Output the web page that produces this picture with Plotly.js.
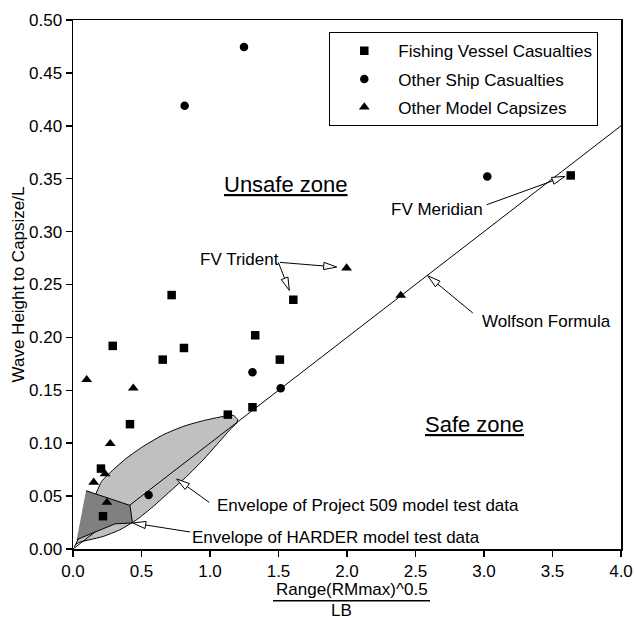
<!DOCTYPE html>
<html>
<head>
<meta charset="utf-8">
<script src="https://cdn.plot.ly/plotly-3.0.1.min.js"></script>
<style>html,body{margin:0;padding:0;background:#fff;}#chart{width:635px;height:619px;}</style>
</head>
<body>
<div id="chart"></div>
<script>
// ---- Data ----
var fishingX = [0.72, 1.608, 0.29, 0.81, 0.655, 1.33, 1.51, 1.13, 1.31, 0.416, 0.204, 0.219, 3.633];
var fishingY = [0.240, 0.2356, 0.192, 0.190, 0.179, 0.202, 0.179, 0.127, 0.134, 0.118, 0.076, 0.031, 0.3531];

var shipX = [1.248, 0.815, 3.024, 1.31, 1.516, 0.552];
var shipY = [0.4745, 0.419, 0.352, 0.167, 0.152, 0.051];

var modelX = [0.10, 0.44, 0.272, 0.234, 0.151, 0.248, 1.997, 2.392];
var modelY = [0.160, 0.152, 0.0995, 0.071, 0.063, 0.044, 0.2656, 0.2397];

var wolfsonX = [0, 4];
var wolfsonY = [0, 0.4];

var proj509X = [0.01, 0.07, 0.13, 0.173, 0.209, 0.294, 0.392, 0.513, 0.659, 0.805, 0.951, 1.097, 1.170, 1.202, 1.195, 1.146, 1.049, 0.951, 0.830, 0.708, 0.586, 0.465, 0.343, 0.221, 0.124, 0.051, 0.015];
var proj509Y = [0.002, 0.018, 0.040, 0.0539, 0.0639, 0.0750, 0.0860, 0.0970, 0.1080, 0.1159, 0.1213, 0.1253, 0.1263, 0.1222, 0.1191, 0.1128, 0.0986, 0.0844, 0.0686, 0.0545, 0.0403, 0.0277, 0.0182, 0.0119, 0.0088, 0.0066, 0.004];

var harderX = [0.095, 0.416, 0.434, 0.307, 0.027];
var harderY = [0.0551, 0.0412, 0.0246, 0.0238, 0.0088];

var xTicks = [0, 0.5, 1, 1.5, 2, 2.5, 3, 3.5, 4];
var xTickText = ["0.0", "0.5", "1.0", "1.5", "2.0", "2.5", "3.0", "3.5", "4.0"];
var yTicks = [0, 0.05, 0.1, 0.15, 0.2, 0.25, 0.3, 0.35, 0.4, 0.45, 0.5];
var yTickText = ["0.00", "0.05", "0.10", "0.15", "0.20", "0.25", "0.30", "0.35", "0.40", "0.45", "0.50"];

// ---- Layout geometry ----
var W = 635, H = 619;
var M = {l: 73, r: 14, t: 20, b: 70};
var xRange = [0, 4], yRange = [0, 0.5];
var pw = W - M.l - M.r, ph = H - M.t - M.b;
var sx = pw / (xRange[1] - xRange[0]), sy = ph / (yRange[1] - yRange[0]);

var FONT = "Liberation Sans, Arial, sans-serif";

// arrows: tail -> tip (data coords), open white heads
var arrows = [
  {tail: [1.511, 0.2709], tip: [1.925, 0.2665]},
  {tail: [1.499, 0.2709], tip: [1.579, 0.2444]},
  {tail: [3.020, 0.3254], tip: [3.591, 0.3522]},
  {tail: [2.918, 0.2231], tip: [2.589, 0.2583]},
  {tail: [0.995, 0.0440], tip: [0.757, 0.0662]},
  {tail: [0.854, 0.0161], tip: [0.436, 0.0246]}
];

var shapes = [];
arrows.forEach(function (a) {
  var tx = a.tail[0] * sx, ty = -a.tail[1] * sy;
  var hx = a.tip[0] * sx, hy = -a.tip[1] * sy;
  var dx = hx - tx, dy = hy - ty, len = Math.sqrt(dx * dx + dy * dy);
  var ux = dx / len, uy = dy / len, nx = -uy, ny = ux;
  var L = 13, w = 3.6;
  var bx = hx - L * ux, by = hy - L * uy;
  function d(px, py) { return (px / sx).toFixed(5) + "," + (-py / sy).toFixed(5); }
  shapes.push({type: "line", xref: "x", yref: "y", x0: a.tail[0], y0: a.tail[1], x1: bx / sx, y1: -by / sy,
    line: {color: "black", width: 1}, layer: "above"});
  shapes.push({type: "path", xref: "x", yref: "y",
    path: "M" + d(hx, hy) + " L" + d(bx + w * nx, by + w * ny) + " L" + d(bx - w * nx, by - w * ny) + " Z",
    fillcolor: "white", line: {color: "black", width: 1}, layer: "above"});
});

// x-axis title fraction bar
shapes.push({type: "line", xref: "paper", yref: "paper", x0: 0.365, x1: 0.6515, y0: -0.0977, y1: -0.0977,
  line: {color: "black", width: 1.5}});

var traces = [
  {x: proj509X, y: proj509Y, type: "scatter", mode: "lines", fill: "toself", fillcolor: "#c0c0c0",
   line: {color: "black", width: 1, shape: "spline", smoothing: 0.6}, showlegend: false, hoverinfo: "skip"},
  {x: wolfsonX, y: wolfsonY, type: "scatter", mode: "lines", line: {color: "black", width: 1},
   showlegend: false, hoverinfo: "skip"},
  {x: harderX, y: harderY, type: "scatter", mode: "lines", fill: "toself", fillcolor: "#808080",
   line: {color: "black", width: 1}, showlegend: false, hoverinfo: "skip"},
  {x: fishingX, y: fishingY, type: "scatter", mode: "markers", name: "Fishing Vessel Casualties",
   legendgroup: "a", marker: {symbol: "square", size: 8.5, color: "black"}},
  {x: shipX, y: shipY, type: "scatter", mode: "markers", name: "Other Ship Casualties",
   legendgroup: "b", marker: {symbol: "circle", size: 8.5, color: "black"}},
  {x: modelX, y: modelY, type: "scatter", mode: "markers", name: "Other Model Capsizes",
   legendgroup: "c", marker: {symbol: "triangle-up", size: 9.5, color: "black"}}
];

function ann(text, x, y, size, xanchor) {
  return {text: text, x: x, y: y, xref: "x", yref: "y", showarrow: false,
    xanchor: xanchor || "center", yanchor: "middle", font: {family: FONT, size: size, color: "black"}};
}

var annotations = [
  ann("<u>Unsafe zone</u>", 1.555, 0.3443, 22),
  ann("<u>Safe zone</u>", 2.934, 0.1175, 22),
  ann("FV Meridian", 2.657, 0.3213, 17),
  ann("FV Trident", 1.214, 0.2741, 17),
  ann("Wolfson Formula", 3.458, 0.2151, 17),
  ann("Envelope of Project 509 model test data", 1.036, 0.0409, 17, "left"),
  ann("Envelope of HARDER model test data", 0.854, 0.0113, 17, "left"),
  {text: "Range(RMmax)^0.5", x: 0.510, y: -0.076, xref: "paper", yref: "paper", showarrow: false,
   xanchor: "center", yanchor: "middle", font: {family: FONT, size: 17, color: "black"}},
  {text: "LB", x: 0.4903, y: -0.1166, xref: "paper", yref: "paper", showarrow: false,
   xanchor: "center", yanchor: "middle", font: {family: FONT, size: 17, color: "black"}}
];

var layout = {
  width: W, height: H,
  margin: M,
  paper_bgcolor: "white", plot_bgcolor: "white",
  font: {family: FONT, size: 17, color: "black"},
  showlegend: true,
  legend: {x: 0.4677, y: 0.9768, xanchor: "left", yanchor: "top", bgcolor: "white",
    bordercolor: "black", borderwidth: 1, font: {family: FONT, size: 17, color: "black"},
    itemwidth: 58, traceorder: "grouped", tracegroupgap: 3},
  xaxis: {range: xRange, tickvals: xTicks, ticktext: xTickText, showgrid: false, zeroline: false,
    showline: true, linecolor: "black", linewidth: 1.5, mirror: true, ticks: "outside", ticklen: 6,
    tickwidth: 1.5, tickcolor: "black", tickfont: {family: FONT, size: 17, color: "black"}, fixedrange: true},
  yaxis: {range: yRange, tickvals: yTicks, ticktext: yTickText, showgrid: false, zeroline: false,
    showline: true, linecolor: "black", linewidth: 1.5, mirror: true, ticks: "outside", ticklen: 6,
    tickwidth: 1.5, tickcolor: "black", tickfont: {family: FONT, size: 17, color: "black"}, fixedrange: true,
    title: {text: "Wave Height to Capsize/L", font: {family: FONT, size: 17, color: "black"}, standoff: 0}},
  shapes: shapes,
  annotations: annotations
};

Plotly.newPlot("chart", traces, layout, {displayModeBar: false, staticPlot: true});
</script>
</body>
</html>
